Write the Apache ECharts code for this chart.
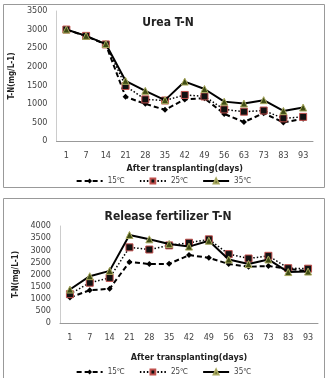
<!DOCTYPE html>
<html>
<head>
    <meta charset="utf-8">
    <title>T-N</title>
    <style>
        body{margin:0;background:#fff;}
        #main{width:327px;height:378px;}
    </style>
</head>
<body>
<div id="main"></div>
</body>
<script src="https://cdn.jsdelivr.net/npm/echarts@6/dist/echarts.min.js" type="text/javascript"></script>
<script type="text/javascript">

// days after transplanting
var days=['1','7','14','21','28','35','42','49','56','63','73','83','93'];

// Urea T-N
var urea15=[3000,2820,2600,1190,1000,840,1120,1150,730,510,750,500,600];
var urea25=[3000,2830,2600,1480,1120,1090,1240,1200,850,790,820,610,650];
var urea35=[3000,2830,2610,1620,1350,1100,1600,1400,1060,1010,1100,810,900];

// Release fertilizer T-N
var rel15=[1050,1350,1410,2520,2430,2440,2800,2690,2430,2320,2350,2230,2140];
var rel25=[1190,1660,1860,3120,3030,3200,3310,3450,2840,2660,2770,2260,2240];
var rel35=[1380,1930,2150,3630,3450,3260,3150,3390,2620,2430,2620,2100,2120];

var names=['15℃','25℃','35℃'];

var main=document.getElementById('main');
var myChart=echarts.init(main);

var font='DejaVu Sans Condensed, Lato, sans-serif';
var lblColor='#444';

function makeSeries(name,data,idx){
    var s={
        name: name,
        type: 'line',
        data: data,
        xAxisIndex: idx,
        yAxisIndex: idx,
        color: '#000',
        animation: false
    };
    if(name=='15℃'){
        s.symbol='diamond';
        s.symbolSize=6;
        s.lineStyle={color:'#000',width:2,type:[5,3]};
        s.itemStyle={color:'#000'};
        s.z=2;
    }else if(name=='25℃'){
        s.symbol='rect';
        s.symbolSize=7;
        s.lineStyle={color:'#000',width:1.5,type:[1.5,2]};
        s.itemStyle={color:'#111',borderColor:'#c0504d',borderWidth:1};
        s.z=3;
    }else{
        s.symbol='triangle';
        s.symbolSize=7;
        s.lineStyle={color:'#000',width:2,type:'solid'};
        s.itemStyle={color:'#3f4c14',borderColor:'#a8a860',borderWidth:1};
        s.z=4;
    }
    return s;
}

function xAx(idx,gap){
    return {
        type:'category',
        gridIndex: idx,
        data: days,
        boundaryGap: true,
        name: 'After transplanting(days)',
        nameLocation: 'middle',
        nameGap: gap,
        nameTextStyle:{fontFamily:font,fontWeight:'bold',fontSize:9,color:'#222'},
        axisLine:{lineStyle:{color:'#999',width:1}},
        axisTick:{show:false},
        axisLabel:{fontFamily:font,fontSize:9,color:lblColor,margin:10,interval:0}
    };
}

function yAx(idx,max,gap){
    return {
        type:'value',
        gridIndex: idx,
        min: 0,
        max: max,
        interval: 500,
        name: 'T-N(mg/L-1)',
        nameLocation: 'middle',
        nameGap: gap,
        nameRotate: 90,
        nameTextStyle:{fontFamily:font,fontWeight:'bold',fontSize:8,color:'#222'},
        axisLine:{show:true,lineStyle:{color:'#ccc',width:1}},
        axisTick:{show:false},
        splitLine:{show:false},
        axisLabel:{fontFamily:font,fontSize:9,color:lblColor,margin:9,
            formatter:function(v){return String(v);}}
    };
}

var option={
    animation:false,
    title:[{
        text:'Urea T-N',
        left:163, top:12, textAlign:'center',
        textStyle:{fontFamily:font,fontWeight:'bold',fontSize:12,color:'#222'}
    },{
        text:'Release fertilizer T-N',
        left:163, top:206, textAlign:'center',
        textStyle:{fontFamily:font,fontWeight:'bold',fontSize:12,color:'#222'}
    }],
    legend:[{
        data:names, top:172, left:'center',
        itemWidth:26, itemHeight:6, itemGap:14,
        textStyle:{fontFamily:font,fontSize:8,color:lblColor}
    },{
        data:names, top:363, left:'center',
        itemWidth:26, itemHeight:6, itemGap:14,
        textStyle:{fontFamily:font,fontSize:8,color:lblColor}
    }],
    grid:[
        {left:52,right:14,top:11,bottom:237},
        {left:60,right:9,top:226,bottom:55}
    ],
    xAxis:[xAx(0,23),xAx(1,30)],
    yAxis:[yAx(0,3500,37),yAx(1,4000,38)],
    graphic:[{
        type:'rect',
        shape:{x:3.5,y:4.5,width:321,height:183},
        style:{fill:null,stroke:'#999',lineWidth:1},
        silent:true
    },{
        type:'rect',
        shape:{x:3.5,y:198.5,width:321,height:190},
        style:{fill:null,stroke:'#999',lineWidth:1},
        silent:true
    }],
    series:[
        makeSeries('15℃',urea15,0),
        makeSeries('25℃',urea25,0),
        makeSeries('35℃',urea35,0),
        makeSeries('15℃',rel15,1),
        makeSeries('25℃',rel25,1),
        makeSeries('35℃',rel35,1)
    ]
};

myChart.setOption(option);
</script>
</html>
